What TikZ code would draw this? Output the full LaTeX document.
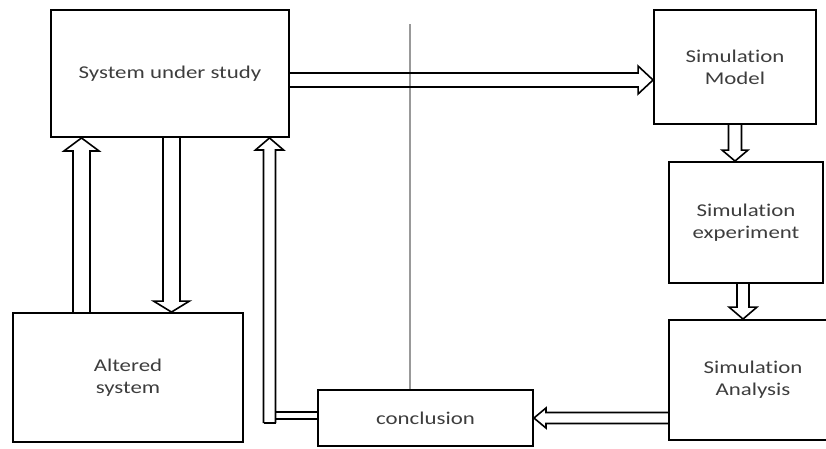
\documentclass[tikz,border=0pt]{standalone}
\usepackage{fontspec}
\setmainfont{Carlito}[FakeStretch=1.27, Ligatures={NoCommon,NoContextual,NoRequired}]
\usetikzlibrary{calc}

% hollow (outlined) block arrow from #1 to #2:
% #3 half shaft width, #4 half head width, #5 head length
\newcommand{\hollowarrow}[5]{%
  \path[hollow] let \p1=(#1), \p2=(#2),
      \n1={atan2(\y2-\y1,\x2-\x1)}, \n2={veclen(\x2-\x1,\y2-\y1)} in
    [shift={(\p1)}, rotate=\n1]
    (0pt,-#3) -- (\n2-#5,-#3) -- (\n2-#5,-#4) -- (\n2,0pt)
    -- (\n2-#5,#4) -- (\n2-#5,#3) -- (0pt,#3);%
}

\tikzset{
  box/.style={draw, line width=1.9pt, inner sep=0pt, align=center,
    text=black!76, font=\fontsize{18}{22}\selectfont},
  hollow/.style={draw, line width=1.6pt, line join=miter},
  divider/.style={draw=black!40, line width=1.2pt},
}

\begin{document}
\begin{tikzpicture}[x=1pt, y=-1pt]
  \useasboundingbox (0,0) rectangle (826,448);
  \clip (0,0) rectangle (826,448);

  % blocks
  \node[box, minimum width=238pt, minimum height=127pt] (sys) at (170,73.5) {System under study};
  \node[box, minimum width=162pt, minimum height=114pt] (model) at (735,67) {Simulation\\Model};
  \node[box, minimum width=154pt, minimum height=121pt] (exper) at (746,222.5) {Simulation\\experiment};
  \node[box, minimum width=168pt, minimum height=120pt] (anal) at (753,380) {Simulation\\Analysis};
  \node[box, minimum width=230pt, minimum height=129pt] (alt) at (128,377.5) {Altered\\system};
  \node[box, minimum width=215pt, minimum height=56pt] (concl) at (425.5,418) {conclusion};

  % vertical divider
  \coordinate (divtop) at (410,24);
  \draw[divider] (divtop) -- (divtop |- concl.north);

  % system -> simulation model
  \coordinate (a1) at ([yshift=-6.5pt]sys.east);
  \hollowarrow{a1}{a1 -| model.west}{7pt}{14pt}{15pt}

  % simulation model -> experiment
  \hollowarrow{model.south}{model.south |- exper.north}{6.5pt}{13pt}{11pt}

  % experiment -> analysis
  \coordinate (a3) at ([xshift=-3pt]exper.south);
  \hollowarrow{a3}{a3 |- anal.north}{6pt}{14pt}{12pt}

  % analysis -> conclusion
  \coordinate (a4) at ([yshift=-38pt]anal.west);
  \hollowarrow{a4}{a4 -| concl.east}{5.5pt}{10pt}{12pt}

  % system -> altered system
  \coordinate (a5) at ([xshift=1.5pt]sys.south);
  \hollowarrow{a5}{a5 |- alt.north}{8.5pt}{18pt}{11pt}

  % altered system -> system
  \coordinate (a6) at ([xshift=-46.5pt]alt.north);
  \hollowarrow{a6}{a6 |- sys.south}{8.5pt}{17.5pt}{13pt}

  % conclusion -> system (elbow)
  \coordinate (bend) at (269.5,423);
  \hollowarrow{bend}{bend |- sys.south}{6pt}{14pt}{12pt}
  \draw[hollow] ([xshift=-6pt]bend) -- ([xshift=6pt]bend);
  \coordinate (c1) at ([yshift=6pt]concl.west);
  \coordinate (c2) at ([yshift=-1pt]concl.west);
  \coordinate (vr) at ([xshift=6pt]bend);
  \draw[hollow] (c1) -- (c1 -| vr);
  \draw[hollow] (c2) -- (c2 -| vr);
\end{tikzpicture}
\end{document}
